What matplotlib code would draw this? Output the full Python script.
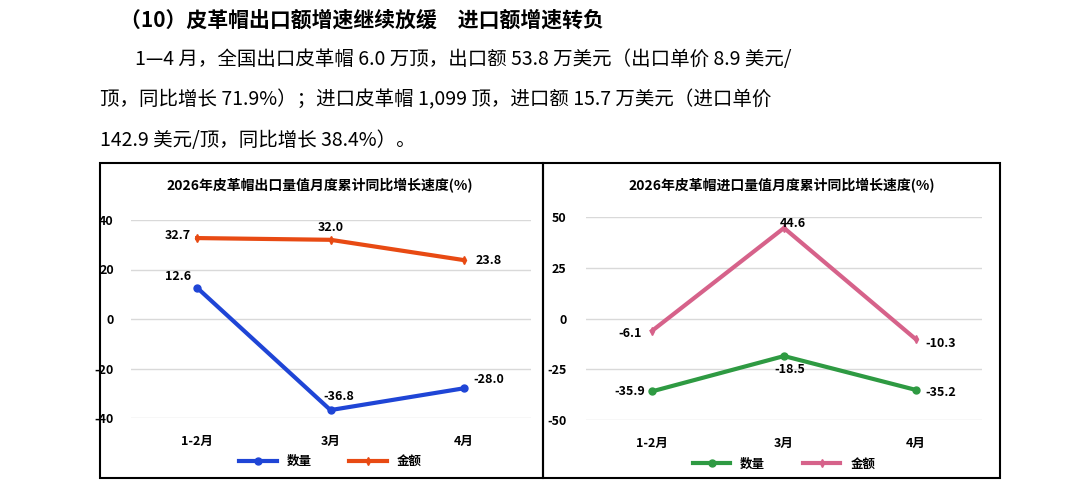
import matplotlib.pyplot as plt
from matplotlib.patches import Rectangle

plt.rcParams['font.family'] = ['Noto Sans CJK SC', 'DejaVu Sans']
plt.rcParams['axes.unicode_minus'] = False

months = ["1-2月", "3月", "4月"]
exp_qty = [12.6, -36.8, -28.0]
exp_val = [32.7, 32.0, 23.8]
imp_qty = [-35.9, -18.5, -35.2]
imp_val = [-6.1, 44.6, -10.3]

fig = plt.figure(figsize=(10.85, 4.82), dpi=100)
W, H = 1085, 482

def fx(px):
    return px / W

def fy(py):
    return 1 - py / H

# header text
fig.text(fx(120), fy(20), "（10）皮革帽出口额增速继续放缓　进口额增速转负",
         fontsize=15, fontweight="bold", va="center")
fig.text(fx(135), fy(60), "1—4 月，全国出口皮革帽 6.0 万顶，出口额 53.8 万美元（出口单价 8.9 美元/",
         fontsize=14, va="center")
fig.text(fx(100), fy(100), "顶，同比增长 71.9%）；进口皮革帽 1,099 顶，进口额 15.7 万美元（进口单价",
         fontsize=14, va="center")
fig.text(fx(100), fy(140), "142.9 美元/顶，同比增长 38.4%）。",
         fontsize=14, va="center")

# panel frames
fig.patches.append(Rectangle((fx(100), fy(478)), fx(443), 315 / H, transform=fig.transFigure,
                             fill=False, edgecolor="black", lw=1.5))
fig.patches.append(Rectangle((fx(543), fy(478)), fx(457), 315 / H, transform=fig.transFigure,
                             fill=False, edgecolor="black", lw=1.5))


def panel(rect, title, title_x, qty, val, c_qty, c_val, ylim, ticks, val_pos, qty_pos, ypad):
    ax = fig.add_axes(rect)
    x = range(len(months))
    ax.plot(x, qty, color=c_qty, lw=3, marker="o", ms=5, label="数量")
    ax.plot(x, val, color=c_val, lw=3, marker="d", ms=4, label="金额")
    ax.set_xlim(-0.5, 2.5)
    ax.set_ylim(*ylim)
    ax.set_yticks(ticks)
    ax.set_xticks(list(x))
    ax.set_xticklabels(months, fontsize=9, fontweight="bold")
    for lab in ax.get_yticklabels():
        lab.set_fontsize(9)
        lab.set_fontweight("bold")
    ax.grid(axis="y", color="#d9d9d9", lw=1)
    ax.set_axisbelow(True)
    for s in ax.spines.values():
        s.set_visible(False)
    ax.tick_params(length=0, pad=12)
    ax.tick_params(axis="y", pad=ypad)
    for i, v in enumerate(val):
        dx, dy = val_pos[i]
        ax.annotate(f"{v:.1f}", (i, v), xytext=(dx, dy), textcoords="offset points",
                    ha="center", va="center", fontsize=9, fontweight="bold")
    for i, v in enumerate(qty):
        dx, dy = qty_pos[i]
        ax.annotate(f"{v:.1f}", (i, v), xytext=(dx, dy), textcoords="offset points",
                    ha="center", va="center", fontsize=9, fontweight="bold")
    ax.legend(loc="upper center", bbox_to_anchor=(0.5, -0.13), ncol=2, frameon=False,
              prop={"size": 9, "weight": "bold"}, handlelength=3, columnspacing=3)
    fig.text(title_x, fy(186), title, fontsize=10, fontweight="bold", ha="center", va="center")
    return ax


panel([fx(130.5), fy(418), fx(400), 198 / H], "2026年皮革帽出口量值月度累计同比增长速度(%)",
      fx(320), exp_qty, exp_val, "#1f45d6", "#e84a13", (-40, 40), [-40, -20, 0, 20, 40],
      [(-14, 2), (0, 9), (18, 0)], [(-14, 8), (6, 10), (18, 6)], 12)
panel([fx(586), fy(420), fx(396), 203 / H], "2026年皮革帽进口量值月度累计同比增长速度(%)",
      fx(782), imp_qty, imp_val, "#2e9a42", "#d6628a", (-50, 50), [-50, -25, 0, 25, 50],
      [(-16, -2), (6, 3), (18, -3)], [(-16, 0), (4, -10), (18, -2)], 14)

fig.savefig("out.png", dpi=100)
